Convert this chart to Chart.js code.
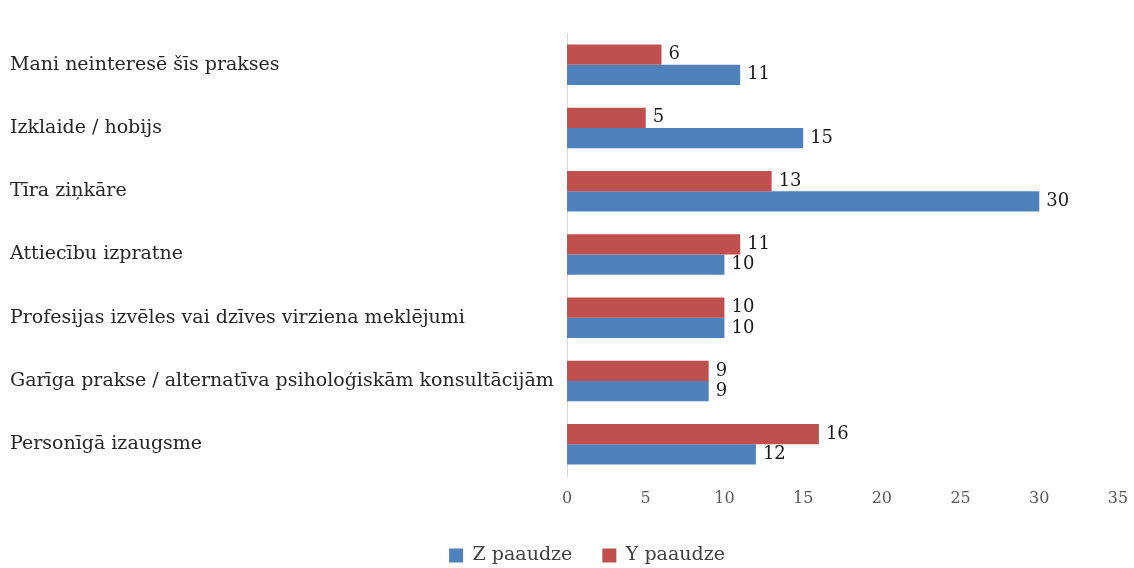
<!DOCTYPE html>
<html>
<head>
<meta charset="utf-8">
<script src="https://cdn.jsdelivr.net/npm/chart.js@4"></script>
<style>
  html, body { margin: 0; padding: 0; background: #fff; }
  #wrap { width: 1134px; height: 568px; }
</style>
</head>
<body>
<div id="wrap"><canvas id="myChart" width="1134" height="568"></canvas></div>
<script>
// categories, top to bottom
const categories = [
    'Mani neinteresē šīs prakses',
    'Izklaide / hobijs',
    'Tīra ziņkāre',
    'Attiecību izpratne',
    'Profesijas izvēles vai dzīves virziena meklējumi',
    'Garīga prakse / alternatīva psiholoģiskām konsultācijām',
    'Personīgā izaugsme'
];
const yPaaudze = [6, 5, 13, 11, 10, 9, 16];
const zPaaudze = [11, 15, 30, 10, 10, 9, 12];
const xTicks = [0, 5, 10, 15, 20, 25, 30, 35];

const serif = '"DejaVu Serif", "Liberation Serif", serif';

// draws the number at the end of each bar
const barValues = {
    id: 'barValues',
    afterDatasetsDraw(chart) {
        const ctx = chart.ctx;
        ctx.save();
        ctx.font = '18px ' + serif;
        ctx.fillStyle = '#1a1a1a';
        ctx.textAlign = 'left';
        ctx.textBaseline = 'middle';
        chart.data.datasets.forEach(function(ds, i) {
            chart.getDatasetMeta(i).data.forEach(function(bar, j) {
                ctx.fillText(ds.data[j], bar.x + 7, bar.y);
            });
        });
        ctx.restore();
    }
};

// legend in the original sits a bit right of centre and lower
const legendShift = {
    id: 'legendShift',
    afterLayout(chart) {
        chart.legend.left += 23;
        chart.legend.right += 23;
        chart.legend.top += 7;
        chart.legend.bottom += 7;
    }
};

var ctx = document.getElementById('myChart').getContext('2d');
var chart = new Chart(ctx, {
    type: 'bar',
    data: {
        labels: categories,
        datasets: [{
            label: 'Y paaudze',
            backgroundColor: '#C0504D',
            data: yPaaudze
        }, {
            label: 'Z paaudze',
            backgroundColor: '#4F81BD',
            data: zPaaudze
        }]
    },
    options: {
        indexAxis: 'y',
        responsive: false,
        animation: false,
        categoryPercentage: 0.64,
        barPercentage: 1.0,
        layout: { padding: { left: 10, right: 16, top: 33, bottom: 0 } },
        scales: {
            x: {
                min: xTicks[0],
                max: xTicks[xTicks.length - 1],
                afterBuildTicks: function(scale) {
                    scale.ticks = xTicks.map(function(v) { return { value: v }; });
                },
                afterFit: function(scale) {
                    scale.height = 33;
                    scale.paddingLeft = 0;
                    scale.paddingRight = 0;
                },
                grid: { display: false },
                border: { display: false },
                ticks: { color: '#595959', padding: 5, maxRotation: 0, font: { family: serif, size: 16 } }
            },
            y: {
                grid: { display: false },
                border: { display: true, color: '#d9d9d9' },
                afterFit: function(scale) { scale.width = 557; },
                ticks: { color: '#262626', crossAlign: 'far', font: { family: serif, size: 19 } }
            }
        },
        plugins: {
            legend: {
                position: 'bottom',
                reverse: true,
                labels: {
                    color: '#404040',
                    boxWidth: 14,
                    boxHeight: 14,
                    padding: 30,
                    font: { family: serif, size: 19 }
                }
            },
            tooltip: { enabled: false }
        }
    },
    plugins: [barValues, legendShift]
});
</script>
</body>
</html>
